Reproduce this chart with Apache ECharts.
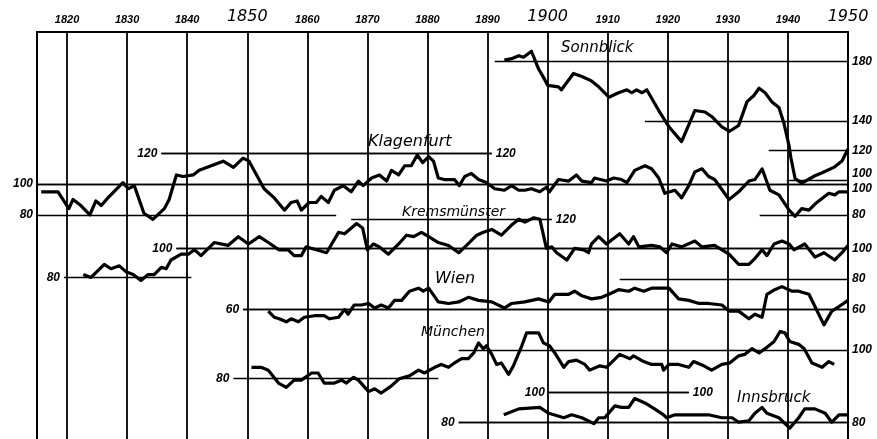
<!DOCTYPE html>
<html>
<head>
<meta charset="utf-8">
<title>Niederschlag – übergreifende Mittel</title>
<script src="https://cdn.jsdelivr.net/npm/echarts@6/dist/echarts.min.js"></script>
<style>
html, body { margin: 0; padding: 0; background: #fff; }
#chart { width: 877px; height: 439px; }
</style>
</head>
<body>
<div id="chart"></div>
<script>
// Jahrzehnt-Linien
const decades = [1820, 1830, 1840, 1850, 1860, 1870, 1880, 1890, 1900, 1910, 1920, 1930, 1940]

const stationNames = ['Sonnblick', 'Klagenfurt', 'Kremsmünster', 'Wien', 'München', 'Innsbruck']

const sonnblickYears = [1892.8, 1894, 1895.2, 1896, 1897.3, 1898.5, 1899.5, 1900, 1901.8, 1902.3, 1904.3, 1905.7, 1907.3, 1908.5, 1910.2, 1911.8, 1913.2, 1914, 1914.8, 1915.7, 1916.5, 1918.5, 1920.2, 1922.3, 1924.5, 1926.2, 1927.3, 1929, 1930.3, 1931.8, 1933.2, 1934.3, 1935.2, 1936.2, 1937.3, 1938.5, 1939.3, 1940.2, 1940.5, 1941.2, 1942.3, 1944.5, 1945.7, 1947.8, 1949, 1950]
const sonnblickValues = [181, 182, 184, 183, 187, 175, 168, 164, 163, 161, 172, 170, 167, 163, 156, 159, 161, 159, 161, 159, 161, 147, 136, 126, 147, 146, 143, 136, 133, 137, 153, 157, 162, 159, 153, 149, 139, 123, 115, 101, 98, 103, 105, 109, 113, 121]

const klagenfurtYears = [1815.7, 1818.5, 1820.3, 1821, 1822.3, 1823.8, 1824.8, 1825.7, 1826.8, 1829.3, 1830.2, 1831.2, 1832.8, 1834.3, 1836.2, 1837, 1838.2, 1839.3, 1841, 1842, 1844, 1846, 1847.7, 1849.3, 1850.3, 1852.8, 1854.5, 1856.2, 1857.3, 1858.3, 1859, 1860.3, 1861.5, 1862.3, 1863.5, 1864.5, 1866, 1867.3, 1868.5, 1869.3, 1870.7, 1872, 1873.2, 1874, 1875.2, 1876.2, 1877.3, 1878.3, 1879.2, 1880.2, 1881, 1881.8, 1882.8, 1884.5, 1885.3, 1886.2, 1887.3, 1888.5, 1889.8, 1891.2, 1892.8, 1894, 1895.2, 1896.2, 1897.3, 1898.7, 1899.8, 1900.3, 1901.8, 1903.5, 1904.8, 1905.7, 1907.3, 1907.8, 1909.8, 1911, 1912.3, 1913.2, 1914.5, 1916.2, 1917.3, 1918.5, 1919.5, 1921.2, 1922.3, 1923.5, 1924.5, 1925.7, 1926.8, 1927.8, 1930.2, 1931.8, 1933.5, 1934.5, 1935.7, 1937, 1938.5, 1940.2, 1941.2, 1942.3, 1943.5, 1944.5, 1946.8, 1947.8, 1948.5, 1950]
const klagenfurtValues = [95, 95, 84, 90, 86, 80, 89, 86, 91, 101, 97, 99, 81, 77, 84, 90, 106, 105, 106, 109, 112, 115, 111, 117, 115, 97, 91, 83, 88, 89, 83, 88, 88, 92, 88, 96, 99, 95, 102, 99, 104, 106, 102, 109, 106, 112, 112, 119, 114, 118, 115, 104, 103, 103, 99, 105, 107, 103, 101, 97, 96, 99, 96, 96, 97, 95, 98, 95, 103, 102, 106, 102, 101, 104, 102, 104, 103, 101, 109, 112, 110, 104, 94, 96, 91, 99, 108, 110, 105, 103, 90, 95, 102, 103, 110, 96, 93, 83, 79, 84, 83, 87, 94, 93, 95, 95]

const kremsYears = [1822.7, 1824, 1826.2, 1827.3, 1828.7, 1829.8, 1831, 1832.3, 1833.5, 1834.5, 1835.7, 1836.5, 1837.3, 1839, 1840.2, 1841.2, 1842.3, 1844.5, 1846.8, 1848.5, 1850.2, 1852, 1853.5, 1855.3, 1856.8, 1857.8, 1859, 1859.8, 1861.5, 1863.2, 1865.2, 1866.2, 1868.2, 1869.2, 1870, 1871, 1872, 1873.5, 1875.2, 1876.5, 1877.7, 1879, 1880.2, 1881.8, 1883.5, 1885.2, 1886.5, 1888.2, 1889.3, 1890.7, 1892.3, 1894, 1895.2, 1896.2, 1897.7, 1898.7, 1899.8, 1900.7, 1901.5, 1903.2, 1904.5, 1906, 1906.8, 1907.3, 1908.5, 1909.8, 1912, 1913.5, 1914.3, 1915.2, 1917.3, 1918.7, 1919.8, 1920.7, 1922.3, 1924.5, 1925.7, 1927.8, 1930.2, 1931.8, 1933.5, 1934.5, 1935.7, 1936.5, 1937.7, 1939, 1940.2, 1941, 1942.8, 1944.5, 1946, 1947.8, 1949, 1950]
const kremsValues = [82, 80, 89, 86, 88, 84, 82, 78, 82, 82, 87, 86, 92, 96, 96, 99, 95, 104, 102, 108, 103, 108, 104, 99, 99, 95, 95, 101, 99, 97, 111, 110, 117, 114, 99, 103, 101, 96, 103, 109, 108, 111, 108, 104, 102, 97, 102, 109, 111, 113, 109, 116, 120, 118, 121, 120, 100, 101, 97, 92, 100, 99, 97, 103, 108, 103, 110, 103, 108, 101, 102, 101, 97, 103, 101, 105, 101, 102, 96, 89, 89, 93, 99, 95, 103, 105, 103, 99, 103, 94, 97, 92, 97, 102]

const wienYears = [1853.5, 1854.5, 1855.3, 1856.5, 1857.3, 1858.5, 1859.5, 1861.2, 1862.8, 1863.7, 1865.2, 1866.2, 1866.8, 1867.8, 1869, 1870.2, 1871.2, 1872.3, 1873.5, 1874.5, 1875.7, 1877, 1878.5, 1879.3, 1880.2, 1881.8, 1883.5, 1885.2, 1886.8, 1888.5, 1890.7, 1892.8, 1894, 1896.2, 1898.5, 1900.2, 1901.2, 1903.5, 1904.5, 1905.7, 1907.3, 1909, 1910.2, 1911.8, 1913.5, 1914.5, 1916, 1917.3, 1920.2, 1921.8, 1923.5, 1925.2, 1926.8, 1929, 1930.2, 1931.8, 1933.5, 1934.5, 1935.7, 1936.5, 1937.8, 1939, 1940.7, 1941.8, 1943.5, 1944.5, 1946, 1947.3, 1948.5, 1950]
const wienValues = [59, 55, 54, 52, 54, 52, 55, 56, 56, 54, 55, 60, 57, 63, 63, 64, 61, 63, 61, 66, 66, 72, 74, 72, 74, 65, 64, 65, 68, 66, 65, 61, 64, 65, 67, 65, 70, 70, 72, 69, 67, 68, 70, 73, 72, 74, 72, 74, 74, 67, 66, 64, 64, 63, 59, 59, 54, 57, 55, 70, 73, 75, 72, 72, 70, 62, 50, 59, 62, 66]

const muenchenYears = [1850.7, 1852.3, 1853.5, 1855.2, 1856.5, 1857.8, 1859, 1860.7, 1861.8, 1862.8, 1864.5, 1865.7, 1866.5, 1867.7, 1868.5, 1870.2, 1871.2, 1872.3, 1874, 1875.3, 1877, 1878.5, 1879.5, 1881.2, 1882.3, 1883.5, 1884.5, 1885.7, 1886.8, 1887.7, 1888.5, 1889.3, 1889.8, 1890.7, 1891.5, 1892.3, 1893.5, 1894.3, 1895.7, 1896.5, 1898.5, 1899.3, 1900.3, 1901.2, 1902.7, 1903.5, 1904.8, 1906.2, 1907, 1908.7, 1909.8, 1912, 1913.7, 1914.3, 1916, 1917.3, 1919, 1919.3, 1920.2, 1921.8, 1923.5, 1924.3, 1926, 1927.3, 1929, 1930.3, 1931.8, 1932.8, 1934, 1935.2, 1936.2, 1937.7, 1938.7, 1939.5, 1940.3, 1941.8, 1942.7, 1944, 1945.7, 1946.8, 1947.7]
const muenchenValues = [88, 88, 86, 77, 74, 79, 79, 84, 84, 77, 77, 79, 77, 81, 79, 71, 73, 70, 75, 80, 82, 86, 84, 88, 90, 88, 91, 94, 94, 98, 105, 101, 103, 97, 90, 91, 83, 89, 103, 112, 112, 105, 103, 98, 88, 92, 93, 90, 86, 89, 88, 97, 94, 96, 92, 90, 90, 86, 90, 90, 88, 92, 89, 86, 90, 91, 96, 97, 101, 98, 101, 106, 113, 112, 106, 104, 101, 91, 88, 92, 90]

const innsbruckYears = [1892.7, 1895.2, 1898.7, 1900.2, 1902.7, 1904, 1905.7, 1907.7, 1908.5, 1909.5, 1911.2, 1912.3, 1913.5, 1914.5, 1916.2, 1917.8, 1919.3, 1919.8, 1921.2, 1924.5, 1926.8, 1929, 1930.7, 1931.8, 1933.5, 1934.5, 1935.7, 1936.5, 1938.5, 1940.3, 1941.8, 1942.8, 1944.5, 1946.2, 1947.3, 1948.5, 1950]
const innsbruckValues = [85, 89, 90, 86, 83, 85, 83, 79, 83, 83, 91, 90, 90, 96, 93, 89, 85, 83, 85, 85, 85, 83, 83, 80, 81, 86, 90, 86, 83, 76, 83, 89, 89, 86, 80, 85, 85]

// Bezugslinien: [Wert, von, bis, Beschriftung]
const sonnblickRefs = [[180, 1891.2, 1950, 'end'], [140, 1916.2, 1950, 'end'], [120, 1936.8, 1950, 'end'], [100, 1939.8, 1950, 'end']]
const klagenfurtRefs = [[120, 1835.7, 1890.7, 'start'], [120, 1835.7, 1890.7, 'end'], [100, 1815, 1950, 'start'], [100, 1815, 1950, 'end'], [80, 1815, 1864.8, 'start'], [80, 1935.3, 1950, 'end']]
const kremsRefs = [[120, 1867.3, 1900.7, 'end'], [100, 1838.2, 1950, 'start'], [100, 1838.2, 1950, 'end'], [80, 1819.5, 1840.7, 'start']]
const wienRefs = [[80, 1912, 1950, 'end'], [60, 1849.3, 1950, 'start'], [60, 1849.3, 1950, 'end']]
const muenchenRefs = [[100, 1885.2, 1950, 'end'], [80, 1847.7, 1881.8, 'start']]
const innsbruckRefs = [[100, 1900.2, 1923.5, 'start'], [100, 1900.2, 1923.5, 'end'], [80, 1885.2, 1950, 'start'], [80, 1885.2, 1950, 'end']]

const allYears = [sonnblickYears, klagenfurtYears, kremsYears, wienYears, muenchenYears, innsbruckYears]
const allValues = [sonnblickValues, klagenfurtValues, kremsValues, wienValues, muenchenValues, innsbruckValues]
const allRefs = [sonnblickRefs, klagenfurtRefs, kremsRefs, wienRefs, muenchenRefs, innsbruckRefs]

// jede Station bekommt eigene Skala im gleichen Rahmen
const TOP = 32
const PLOT_H = 412
const scaleLayout = [
  { ref: 180, px: 62, k: 1.5 },
  { ref: 100, px: 186, k: 1.55 },
  { ref: 100, px: 251, k: 1.475 },
  { ref: 60, px: 313, k: 1.55 },
  { ref: 100, px: 354, k: 1.45 },
  { ref: 80, px: 427, k: 1.5 }
]
const namePos = [[561, 41, 15], [368, 134, 16], [402, 205, 14], [435, 271, 16], [421, 325, 14], [737, 391, 15]]
// rechte Beschriftungen liegen dicht beieinander
const nudge = { '0-100-end': -6, '1-100-end': 5 }

const NUM_FONT = '"Liberation Sans", Arimo, sans-serif'
const NAME_FONT = '"DejaVu Sans", "Liberation Sans", sans-serif'
const labelStyle = { color: '#000', fontStyle: 'italic', fontWeight: 'bold', fontSize: 12, fontFamily: NUM_FONT }

const chart = echarts.init(document.getElementById('chart'))

const grids = stationNames.map(() => ({ left: 37, right: 29, top: TOP, height: PLOT_H, show: false }))

const xAxes = stationNames.map((n, i) => ({
  type: 'value',
  gridIndex: i,
  min: 1815,
  max: 1950,
  interval: 5,
  show: i === 0,
  position: 'top',
  axisLine: { onZero: false, lineStyle: { color: '#000', width: 2 } },
  axisTick: { show: false },
  splitLine: { show: false },
  axisLabel: {
    margin: 7,
    formatter: v => (v % 10 ? '' : (v % 50 === 0 ? '{big|' + v + '}' : '{small|' + v + '}')),
    rich: {
      big: { fontSize: 16, fontStyle: 'italic', color: '#000', fontFamily: NAME_FONT },
      small: { fontSize: 11, fontStyle: 'italic', fontWeight: 'bold', color: '#000', fontFamily: NUM_FONT }
    }
  }
}))

const yAxes = scaleLayout.map((s, i) => {
  const max = s.ref + (s.px - TOP) / s.k
  return {
    type: 'value',
    gridIndex: i,
    min: max - PLOT_H / s.k,
    max: max,
    show: i < 2,
    position: i === 1 ? 'right' : 'left',
    axisLine: { show: true, onZero: false, lineStyle: { color: '#000', width: 2 } },
    axisTick: { show: false },
    axisLabel: { show: false },
    splitLine: { show: false }
  }
})

const series = stationNames.map((name, i) => {
  const refLines = allRefs[i].map(r => {
    const key = i + '-' + r[0] + '-' + r[3]
    return [
      {
        coord: [r[1], r[0]],
        label: {
          show: true,
          position: r[3],
          distance: 4,
          formatter: String(r[0]),
          offset: [0, nudge[key] || 0],
          ...labelStyle
        }
      },
      { coord: [r[2], r[0]] }
    ]
  })
  const lines = i === 0 ? decades.map(d => ({ xAxis: d, lineStyle: { width: 1.8 } })).concat(refLines) : refLines
  return {
    name: name,
    type: 'line',
    xAxisIndex: i,
    yAxisIndex: i,
    showSymbol: false,
    symbol: 'none',
    lineStyle: { color: '#000', width: 3.2, join: 'round' },
    data: allYears[i].map((y, j) => [y, allValues[i][j]]),
    markLine: {
      silent: true,
      symbol: 'none',
      animation: false,
      label: { show: false },
      lineStyle: { color: '#000', width: 1.4, type: 'solid' },
      data: lines
    }
  }
})

chart.setOption({
  animation: false,
  backgroundColor: '#fff',
  grid: grids,
  xAxis: xAxes,
  yAxis: yAxes,
  series: series,
  graphic: stationNames.map((name, i) => ({
    type: 'text',
    left: namePos[i][0],
    top: namePos[i][1],
    silent: true,
    style: {
      text: name,
      fill: '#000',
      fontStyle: 'italic',
      fontSize: namePos[i][2],
      fontFamily: NAME_FONT
    }
  }))
})

window.addEventListener('resize', () => chart.resize())
</script>
</body>
</html>
